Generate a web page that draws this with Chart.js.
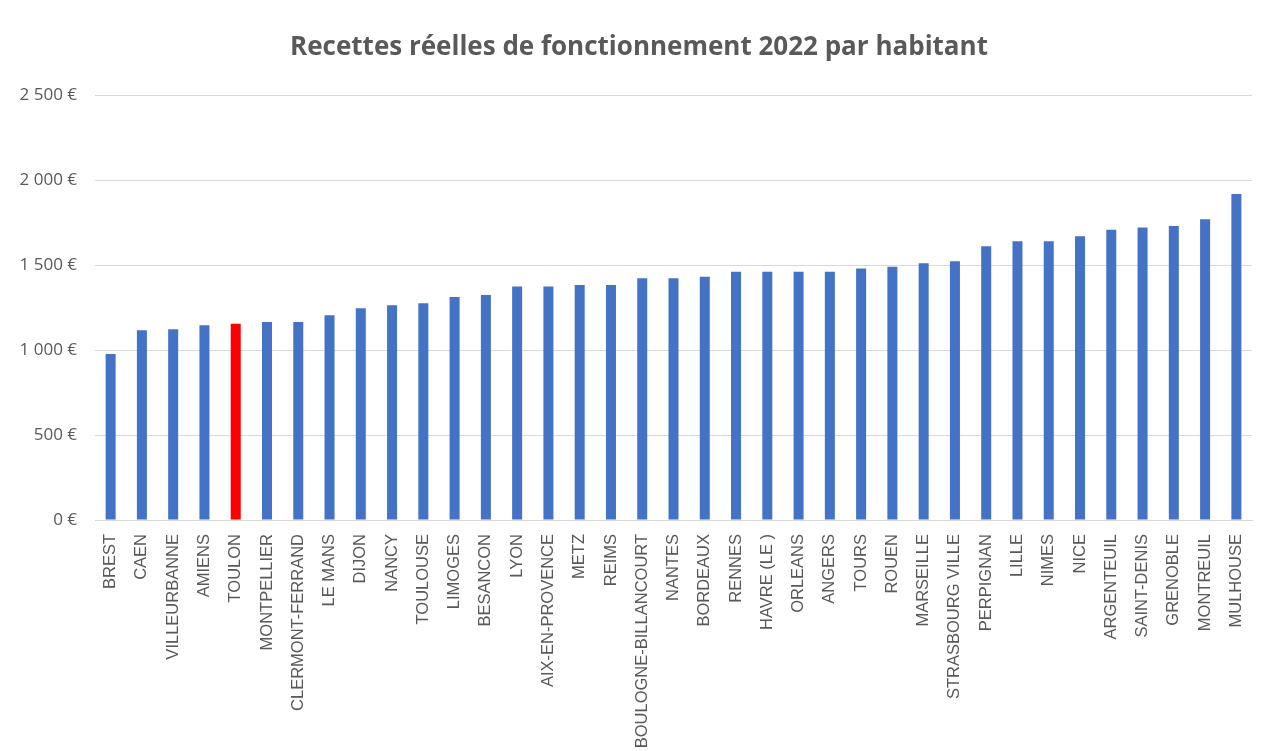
<!doctype html>
<html>
<head>
<meta charset="UTF-8">
<title>Recettes réelles de fonctionnement 2022 par habitant</title>
<script src="https://cdn.jsdelivr.net/npm/chart.js@4/dist/chart.umd.min.js"></script>
<style>
body{
	margin:0;
	background:#fff;
}
canvas{
	display:block;
}
</style>
</head>
<body>

<canvas id="BarChart" width="1264" height="751"></canvas>

<script>

// villes, triees par recettes croissantes
var villes = ["BREST", "CAEN", "VILLEURBANNE", "AMIENS", "TOULON", "MONTPELLIER",
	"CLERMONT-FERRAND", "LE MANS", "DIJON", "NANCY", "TOULOUSE", "LIMOGES", "BESANCON",
	"LYON", "AIX-EN-PROVENCE", "METZ", "REIMS", "BOULOGNE-BILLANCOURT", "NANTES",
	"BORDEAUX", "RENNES", "HAVRE (LE )", "ORLEANS", "ANGERS", "TOURS", "ROUEN",
	"MARSEILLE", "STRASBOURG VILLE", "PERPIGNAN", "LILLE", "NIMES", "NICE",
	"ARGENTEUIL", "SAINT-DENIS", "GRENOBLE", "MONTREUIL", "MULHOUSE"];

// recettes reelles de fonctionnement par habitant (euros)
var recettes = [976, 1116, 1122, 1145, 1155, 1165,
	1165, 1204, 1245, 1263, 1275, 1312, 1324,
	1373, 1373, 1382, 1382, 1422, 1422,
	1431, 1461, 1461, 1461, 1461, 1480, 1490,
	1510, 1522, 1610, 1639, 1639, 1669,
	1708, 1720, 1729, 1769, 1918];

// ville mise en evidence
var villeRef = "TOULON";

var yTicks = [0, 500, 1000, 1500, 2000, 2500];

var couleurs = villes.map(function(v){
	return v === villeRef ? "#FF0000" : "#4472C4";
});

function euros(v){
	var s = String(v).replace(/\B(?=(\d{3})+(?!\d))/g, " ");
	return s + " €";
}

var ctx = document.getElementById("BarChart");
var BarChart = new Chart(ctx, {
  type: 'bar',
  data: {
    labels: villes,
    datasets: [{
        data: recettes,
        backgroundColor: couleurs,
        borderWidth: 0,
        barPercentage: 0.32,
        categoryPercentage: 1
      }
    ]
  },
  options: {
	responsive: false,
	animation: false,
	layout: {
		padding: {left: 14, right: 0, top: 0, bottom: 0}
	},
	plugins: {
		legend: {
			display: false
		},
		tooltip: {
			enabled: false
		},
		title: {
			display: true,
			text: 'Recettes réelles de fonctionnement 2022 par habitant',
			color: '#595959',
			font: {family: "'Open Sans', sans-serif", size: 26, weight: 'bold'},
			padding: {top: 32.4, bottom: 31.4}
		}
	},
	scales: {
		x: {
			grid: {display: false},
			border: {color: '#d9d9d9', width: 1},
			ticks: {
				autoSkip: false,
				minRotation: 90,
				maxRotation: 90,
				padding: 6,
				color: '#595959',
				font: {family: "'Liberation Sans', Arial, sans-serif", size: 16.5}
			},
			afterFit: function(scale){ scale.height = 231; }
		},
		y: {
			min: 0,
			max: 2500,
			afterBuildTicks: function(scale){
				scale.ticks = yTicks.map(function(v){ return {value: v}; });
			},
			grid: {color: '#d9d9d9', lineWidth: 1, drawTicks: false},
			border: {display: false},
			ticks: {
				padding: 18,
				color: '#595959',
				font: {family: "'Open Sans', sans-serif", size: 17},
				callback: function(v){ return euros(v); }
			},
			afterFit: function(scale){ scale.width = 81; }
		},
		// marge vide a droite du graphique
		marge: {
			position: 'right',
			grid: {display: false},
			border: {display: false},
			ticks: {display: false},
			afterFit: function(scale){ scale.width = 12; }
		}
	}
  }
});

</script>

</body>
</html>
